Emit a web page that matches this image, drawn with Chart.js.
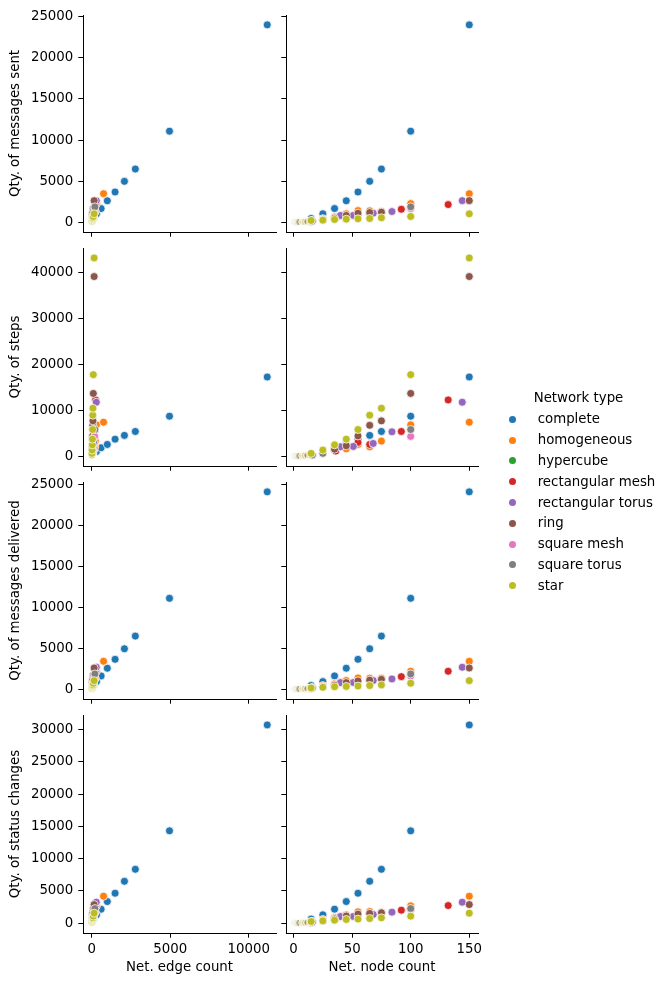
<!DOCTYPE html>
<html>
<head>
<meta charset="utf-8">
<title>Network runs pair grid</title>
<script src="https://cdn.jsdelivr.net/npm/chart.js@4.4.0/dist/chart.umd.min.js"></script>
<style>
  body { margin: 0; background: #fff; }
  #wrap { position: relative; width: 672px; height: 986px; font-family: "DejaVu Sans", sans-serif; font-size: 13.33px; color: #000; }
  #wrap canvas { position: absolute; left: 0; top: 0; }
  .lg { position: absolute; height: 16px; line-height: 16px; white-space: nowrap; }
  .dot { position: absolute; width: 7px; height: 7px; border-radius: 50%; }
</style>
</head>
<body>
<div id="wrap"></div>
<script>
// Data, one sub-array per network type
const networkTypes = ['complete', 'homogeneous', 'hypercube', 'rectangular mesh', 'rectangular torus',
                      'ring', 'square mesh', 'square torus', 'star'];

const nodeCount = [
  [1, 3, 5, 8, 10, 12, 15, 25, 35, 45, 55, 65, 75, 100, 150],
  [6, 8, 10, 12, 15, 25, 35, 45, 55, 65, 75, 100, 150],
  [2, 4, 8, 16],
  [6, 8, 12, 36, 55, 65, 92, 132],
  [6, 8, 12, 40, 51, 68, 84, 144],
  [3, 5, 8, 10, 12, 15, 25, 35, 45, 55, 65, 75, 100, 150],
  [4, 9, 16, 25, 100],
  [4, 9, 16, 25, 100],
  [3, 5, 8, 10, 12, 15, 25, 35, 45, 55, 65, 75, 100, 150]
];

const edgeCount = [
  [0, 3, 10, 28, 45, 66, 105, 300, 595, 990, 1485, 2080, 2775, 4950, 11175],
  [18, 24, 30, 36, 45, 75, 105, 135, 165, 195, 225, 300, 750],
  [1, 4, 12, 32],
  [7, 10, 17, 59, 94, 112, 157, 241],
  [12, 16, 24, 80, 102, 136, 168, 288],
  [3, 5, 8, 10, 12, 15, 25, 35, 45, 55, 65, 75, 100, 150],
  [4, 12, 24, 40, 180],
  [8, 18, 32, 50, 200],
  [2, 4, 7, 9, 11, 14, 24, 34, 44, 54, 64, 74, 99, 149]
];

const messagesSent = [
  [0, 10, 35, 90, 140, 200, 450, 1014, 1655, 2600, 3670, 4970, 6470, 11080, 24030],
  [40, 55, 70, 90, 150, 420, 640, 1014, 1410, 1380, 1300, 2260, 3470],
  [4, 16, 60, 180],
  [25, 35, 60, 530, 850, 1000, 1570, 2140],
  [30, 40, 70, 810, 820, 1090, 1290, 2620],
  [6, 12, 25, 35, 45, 80, 250, 480, 815, 1090, 1170, 1210, 1650, 2620],
  [10, 40, 110, 250, 1650],
  [12, 50, 130, 300, 1860],
  [6, 15, 40, 60, 90, 205, 240, 325, 360, 410, 450, 530, 690, 1014]
];

const stepCount = [
  [0, 10, 40, 90, 150, 220, 500, 1000, 1820, 2540, 3700, 4520, 5370, 8710, 17270],
  [50, 80, 110, 150, 300, 700, 1250, 1590, 2540, 2030, 3270, 6820, 7400],
  [4, 20, 70, 250],
  [30, 45, 90, 1090, 2980, 2540, 5370, 12260],
  [30, 45, 80, 2030, 2110, 2760, 5300, 11760],
  [6, 20, 50, 80, 120, 350, 800, 1500, 2250, 4400, 6720, 7690, 13680, 39200],
  [10, 50, 200, 500, 4290],
  [12, 60, 250, 600, 5800],
  [8, 30, 90, 150, 250, 580, 1306, 2460, 3700, 5800, 8930, 10450, 17780, 43270]
];

const messagesDelivered = [
  [0, 10, 35, 90, 140, 200, 450, 925, 1620, 2560, 3650, 4945, 6490, 11120, 24150],
  [40, 55, 70, 90, 150, 430, 650, 1050, 1376, 1340, 1320, 2190, 3410],
  [4, 16, 60, 185],
  [25, 35, 60, 520, 850, 1000, 1530, 2190],
  [30, 40, 70, 800, 810, 1050, 1250, 2680],
  [6, 12, 25, 35, 45, 80, 250, 480, 800, 1010, 1100, 1200, 1700, 2590],
  [10, 42, 115, 260, 1600],
  [12, 50, 130, 300, 1860],
  [6, 15, 40, 60, 85, 150, 220, 300, 330, 380, 440, 520, 720, 1040]
];

const statusChanges = [
  [1, 15, 50, 120, 190, 270, 620, 1280, 2160, 3340, 4630, 6480, 8340, 14300, 30720],
  [60, 80, 100, 130, 220, 560, 850, 1280, 1745, 1790, 1700, 2670, 4170],
  [6, 24, 80, 240],
  [35, 50, 85, 770, 1200, 1400, 2000, 2720],
  [40, 55, 95, 1020, 1030, 1330, 1700, 3240],
  [9, 18, 35, 50, 65, 110, 330, 650, 1100, 1400, 1500, 1600, 2200, 2870],
  [14, 55, 150, 340, 2050],
  [16, 65, 170, 380, 2250],
  [9, 20, 55, 85, 120, 250, 350, 460, 560, 620, 710, 820, 1080, 1540]
];

// Tick labels
const edgeTicks = [0, 5000, 10000];
const nodeTicks = [0, 50, 100, 150];
const sentTicks = [0, 5000, 10000, 15000, 20000, 25000];
const stepTicks = [0, 10000, 20000, 30000, 40000];
const deliveredTicks = [0, 5000, 10000, 15000, 20000, 25000];
const statusTicks = [0, 5000, 10000, 15000, 20000, 25000, 30000];

const xLabels = ['Net. edge count', 'Net. node count'];
const yLabels = ['Qty. of messages sent', 'Qty. of steps', 'Qty. of messages delivered', 'Qty. of status changes'];

// tab10 palette
const palette = ['#1f77b4', '#ff7f0e', '#2ca02c', '#d62728', '#9467bd', '#8c564b', '#e377c2', '#7f7f7f', '#bcbd22'];

const W = 672, H = 986;
const colLeft = [83, 286], colRight = [276, 478];
const rowTop = [15, 248, 482, 715], rowBottom = [232, 466, 699, 933];
const FONT = { family: 'DejaVu Sans', size: 13.33 };

const xCols = [{ data: edgeCount, ticks: edgeTicks }, { data: nodeCount, ticks: nodeTicks }];
const yRows = [
  { data: messagesSent, ticks: sentTicks },
  { data: stepCount, ticks: stepTicks },
  { data: messagesDelivered, ticks: deliveredTicks },
  { data: statusChanges, ticks: statusTicks }
];

// matplotlib-style autoscale: data range plus 5% each side
function paddedRange(arrays) {
  const all = arrays.flat();
  const lo = Math.min(...all), hi = Math.max(...all);
  const m = (hi - lo) * 0.05;
  return [lo - m, hi + m];
}

function fade(hex, a) {
  const n = parseInt(hex.slice(1), 16);
  return `rgba(${n >> 16},${(n >> 8) & 255},${n & 255},${a})`;
}

const wrap = document.getElementById('wrap');

function makePanel(r, c) {
  const canvas = document.createElement('canvas');
  canvas.width = W; canvas.height = H;
  wrap.appendChild(canvas);

  const xInfo = xCols[c], yInfo = yRows[r];
  const [xMin, xMax] = paddedRange(xInfo.data);
  const [yMin, yMax] = paddedRange(yInfo.data);

  const yAxisW = c === 0 ? colLeft[0] : 20;
  const xAxisH = r === 3 ? H - rowBottom[3] : 20;

  const datasets = networkTypes.map((t, i) => ({
    label: t,
    data: xInfo.data[i].map((x, j) => ({ x: x, y: yInfo.data[i][j], n: nodeCount[i][j] })),
    backgroundColor: ctx => (ctx.raw && ctx.raw.n < 14) ? fade(palette[i], 0.12) : palette[i],
    borderColor: '#ffffff',
    borderWidth: 0.75,
    pointRadius: 4,
    pointHoverRadius: 4,
    order: networkTypes.length - 1 - i
  }));

  const tickGrid = { drawOnChartArea: false, drawTicks: true, tickLength: 4.7, tickColor: '#000', tickWidth: 1 };

  new Chart(canvas.getContext('2d'), {
    type: 'scatter',
    data: { datasets },
    options: {
      responsive: false,
      animation: false,
      events: [],
      layout: {
        autoPadding: false,
        padding: {
          left: colLeft[c] - yAxisW,
          right: W - colRight[c],
          top: rowTop[r],
          bottom: H - rowBottom[r] - xAxisH
        }
      },
      plugins: { legend: { display: false }, tooltip: { enabled: false } },
      scales: {
        x: {
          type: 'linear', position: 'bottom', min: xMin, max: xMax,
          afterBuildTicks: s => { s.ticks = xInfo.ticks.map(v => ({ value: v })); },
          afterFit: s => { s.height = xAxisH; },
          ticks: { display: r === 3, font: FONT, color: '#000', padding: 4, maxRotation: 0, autoSkip: false,
                   callback: v => String(v) },
          grid: tickGrid,
          border: { display: true, color: '#000', width: 1 },
          title: { display: r === 3, text: xLabels[c], font: FONT, color: '#000', padding: { top: 0, bottom: 10.3 } }
        },
        y: {
          type: 'linear', position: 'left', min: yMin, max: yMax,
          afterBuildTicks: s => { s.ticks = yInfo.ticks.map(v => ({ value: v })); },
          afterFit: s => { s.width = yAxisW; },
          ticks: { display: c === 0, font: FONT, color: '#000', padding: 5, autoSkip: false,
                   callback: v => String(v) },
          grid: tickGrid,
          border: { display: true, color: '#000', width: 1 },
          title: { display: c === 0, text: yLabels[r], font: FONT, color: '#000', padding: { top: 7.7, bottom: 0 } }
        }
      }
    }
  });
}

for (let r = 0; r < 4; r++) {
  for (let c = 0; c < 2; c++) makePanel(r, c);
}

// Legend on the right
function addText(text, x, yMid, center) {
  const d = document.createElement('div');
  d.className = 'lg';
  d.textContent = text;
  d.style.top = (yMid - 8) + 'px';
  if (center) { d.style.left = (x - 100) + 'px'; d.style.width = '200px'; d.style.textAlign = 'center'; }
  else d.style.left = x + 'px';
  wrap.appendChild(d);
}
addText('Network type', 578.5, 398, true);
networkTypes.forEach((t, i) => {
  const y = 419.3 + i * 20.8;
  const dot = document.createElement('div');
  dot.className = 'dot';
  dot.style.background = palette[i];
  dot.style.left = (512.7 - 3.5) + 'px';
  dot.style.top = (y - 3.5) + 'px';
  wrap.appendChild(dot);
  addText(t, 537.7, y, false);
});
</script>
</body>
</html>
